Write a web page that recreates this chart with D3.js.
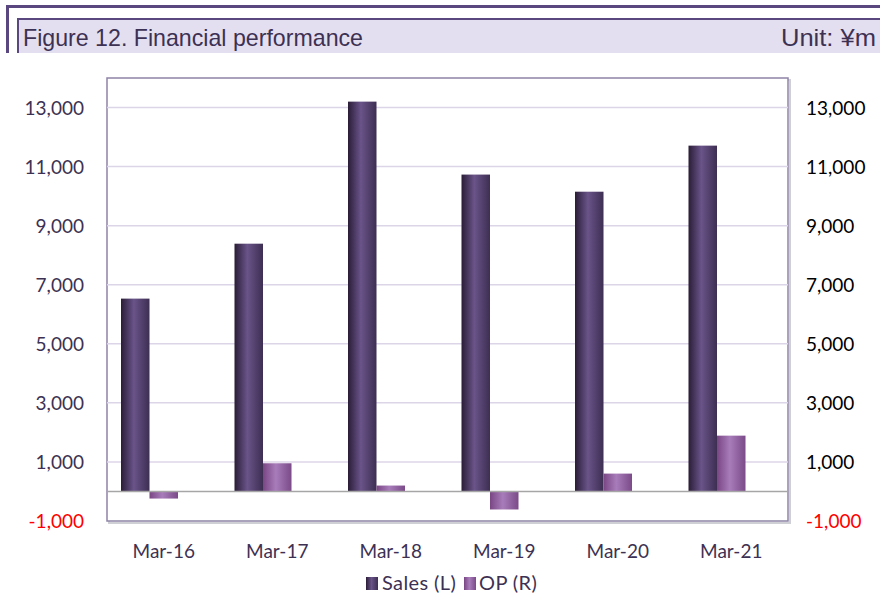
<!DOCTYPE html>
<html>
<head>
<meta charset="utf-8">
<script src="https://cdn.jsdelivr.net/npm/d3@7"></script>
<style>
  body { margin: 0; background: #fff; }
  svg text { font-family: Lato, "Open Sans", sans-serif; }
</style>
</head>
<body>
<div id="chart"></div>
<script>
var categories = ["Mar-16", "Mar-17", "Mar-18", "Mar-19", "Mar-20", "Mar-21"];
var sales = [6530, 8390, 13200, 10730, 10150, 11710];
var op = [-240, 955, 200, -610, 605, 1890];
var tickValues = [-1000, 1000, 3000, 5000, 7000, 9000, 11000, 13000];

var width = 890, height = 599;
var plot = { left: 107, right: 788, top: 78, bottom: 521 };

var svg = d3.select("#chart").append("svg")
  .attr("width", width)
  .attr("height", height);

var defs = svg.append("defs");

function addGradient(id, stops) {
  var g = defs.append("linearGradient")
    .attr("id", id)
    .attr("x1", "0%").attr("x2", "100%")
    .attr("y1", "0%").attr("y2", "0%");
  stops.forEach(function(s) {
    g.append("stop").attr("offset", s[0]).attr("stop-color", s[1]);
  });
}
addGradient("salesGrad", [["0%", "#2a1d37"], ["45%", "#6a5489"], ["100%", "#3d2e52"]]);
addGradient("opGrad", [["0%", "#7a4684"], ["45%", "#a87cba"], ["100%", "#7b4a88"]]);

// number format with plain hyphen for negatives
var fmt = function(d) { return d3.format(",")(d).replace("\u2212", "-"); };

// title bar
svg.append("rect").attr("x", 6).attr("y", 5).attr("width", 874).attr("height", 3).attr("fill", "#5b4780");
svg.append("rect").attr("x", 6).attr("y", 5).attr("width", 3).attr("height", 48).attr("fill", "#5b4780");
svg.append("rect").attr("x", 17).attr("y", 18).attr("width", 863).attr("height", 35).attr("fill", "#e4dff0");
svg.append("rect").attr("x", 17).attr("y", 18).attr("width", 863).attr("height", 2).attr("fill", "#5b4780");
svg.append("rect").attr("x", 17).attr("y", 18).attr("width", 2).attr("height", 35).attr("fill", "#5b4780");

svg.append("text")
  .attr("x", 23).attr("y", 46)
  .attr("fill", "#3d3153")
  .style("font-family", "'Liberation Sans', Arial, sans-serif")
  .style("font-size", "24px")
  .attr("textLength", 340)
  .attr("lengthAdjust", "spacingAndGlyphs")
  .text("Figure 12. Financial performance");

svg.append("text")
  .attr("x", 876).attr("y", 46)
  .attr("text-anchor", "end")
  .attr("fill", "#3d3153")
  .style("font-family", "'Liberation Sans', Arial, sans-serif")
  .style("font-size", "24px")
  .attr("textLength", 95)
  .attr("lengthAdjust", "spacingAndGlyphs")
  .text("Unit: ¥m");

// scales
var x = d3.scaleBand()
  .domain(categories)
  .range([plot.left, plot.right]);

var y = d3.scaleLinear()
  .domain([-1000, 14000])
  .range([plot.bottom, plot.top]);

// plot shadow + border
svg.append("rect")
  .attr("x", plot.left + 2).attr("y", plot.top + 2)
  .attr("width", plot.right - plot.left).attr("height", plot.bottom - plot.top)
  .attr("fill", "none").attr("stroke", "#cfcfd6").attr("stroke-width", 2);

svg.append("rect")
  .attr("x", plot.left).attr("y", plot.top)
  .attr("width", plot.right - plot.left).attr("height", plot.bottom - plot.top)
  .attr("fill", "#fff").attr("stroke", "#8e84a6").attr("stroke-width", 1.5);

// gridlines
svg.append("g")
  .selectAll("line")
  .data(tickValues.filter(function(d) { return d > -1000; }))
  .join("line")
  .attr("x1", plot.left).attr("x2", plot.right)
  .attr("y1", function(d) { return y(d); })
  .attr("y2", function(d) { return y(d); })
  .attr("stroke", "#dcd5e8").attr("stroke-width", 1.5);

// left axis
var leftAxis = svg.append("g")
  .attr("transform", "translate(" + (plot.left - 23) + ",0)")
  .call(d3.axisLeft(y).tickValues(tickValues).tickSize(0).tickPadding(0).tickFormat(fmt));
leftAxis.select(".domain").remove();
leftAxis.selectAll("text")
  .style("font-size", "19px")
  .attr("dy", "0.36em")
  .attr("fill", function(d) { return d < 0 ? "#ff0000" : "#3d3153"; });

// right axis
var rightAxis = svg.append("g")
  .attr("transform", "translate(" + (plot.right + 18) + ",0)")
  .call(d3.axisRight(y).tickValues(tickValues).tickSize(0).tickPadding(0).tickFormat(fmt));
rightAxis.select(".domain").remove();
rightAxis.selectAll("text")
  .style("font-size", "19px")
  .attr("dy", "0.36em")
  .attr("fill", function(d) { return d < 0 ? "#ff0000" : "#000000"; });

// x axis labels
var xAxis = svg.append("g")
  .attr("transform", "translate(0," + (plot.bottom + 19) + ")")
  .call(d3.axisBottom(x).tickSize(0).tickPadding(0));
xAxis.select(".domain").remove();
xAxis.selectAll("text")
  .style("font-size", "19px")
  .attr("dy", "0.95em")
  .attr("fill", "#3d3153");

var barW = 28.5;

// sales bars
svg.append("g")
  .selectAll("rect")
  .data(sales)
  .join("rect")
  .attr("x", function(d, i) { return x(categories[i]) + x.bandwidth() / 2 - barW / 2 - barW; })
  .attr("y", function(d) { return y(Math.max(d, 0)); })
  .attr("width", barW)
  .attr("height", function(d) { return Math.abs(y(d) - y(0)); })
  .attr("fill", "url(#salesGrad)");

// OP bars
svg.append("g")
  .selectAll("rect")
  .data(op)
  .join("rect")
  .attr("x", function(d, i) { return x(categories[i]) + x.bandwidth() / 2 - barW / 2; })
  .attr("y", function(d) { return y(Math.max(d, 0)); })
  .attr("width", barW)
  .attr("height", function(d) { return Math.abs(y(d) - y(0)); })
  .attr("fill", "url(#opGrad)");

// zero line
svg.append("line")
  .attr("x1", plot.left).attr("x2", plot.right)
  .attr("y1", y(0)).attr("y2", y(0))
  .attr("stroke", "#a6a6a6").attr("stroke-width", 1.5);

// legend
var legend = svg.append("g").attr("transform", "translate(366,590)");
legend.append("rect").attr("x", 0).attr("y", -13).attr("width", 12).attr("height", 13).attr("fill", "url(#salesGrad)");
legend.append("text").attr("x", 16).attr("y", 0).style("font-size", "20px").style("letter-spacing", "0.4px").attr("fill", "#3d3153").text("Sales (L)");
legend.append("rect").attr("x", 98).attr("y", -13).attr("width", 12).attr("height", 13).attr("fill", "url(#opGrad)");
legend.append("text").attr("x", 113).attr("y", 0).style("font-size", "20px").style("letter-spacing", "0.4px").attr("fill", "#3d3153").text("OP (R)");
</script>
</body>
</html>
